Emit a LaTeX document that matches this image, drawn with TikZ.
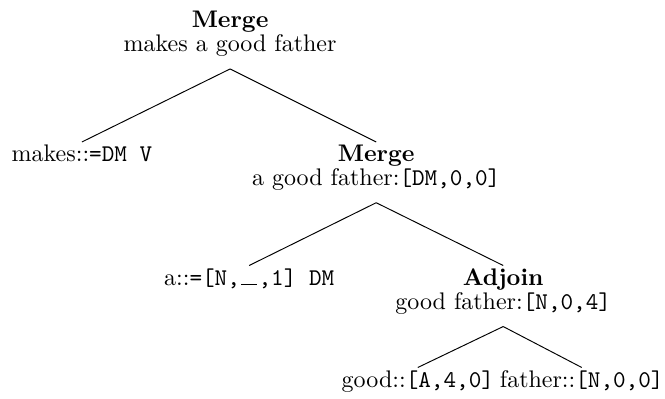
\documentclass[tikz,border=0pt]{standalone}
\usepackage{tikz}
\usetikzlibrary{positioning}
\newcommand{\emptyslot}{\kern.06em\rule{.66em}{.4pt}\kern.06em}

\begin{document}
\begin{tikzpicture}[
    node distance=1cm,
    phrase/.style={inner sep=1pt, align=center},
    leaf/.style={inner sep=1pt},
    branch/.style={line width=0.4pt, black}
  ]
    \useasboundingbox (0,0) rectangle (9.74,-5.84);

    \node[phrase, anchor=north] (root) at (3.37,-0.12) {\textbf{Merge}\\[-2pt]makes a good father};
    \node[leaf, below=1.21cm of root, xshift=-2.17cm] (makes) {makes::\texttt{=DM V}};
    \node[phrase, below=1.21cm of root, xshift=2.14cm] (np) {\textbf{Merge}\\[-2pt]a good father:\texttt{[DM,0,0]}};
    \node[leaf, below=1.06cm of np, xshift=-1.86cm] (det) {a::\texttt{=[N,\emptyslot,1] DM}};
    \node[phrase, below=1.06cm of np, xshift=1.86cm] (adj) {\textbf{Adjoin}\\[-2pt]good father:\texttt{[N,0,4]}};
    \node[leaf, below=0.74cm of adj, xshift=-1.25cm] (good) {good::\texttt{[A,4,0]}};
    \node[leaf, below=0.74cm of adj, xshift=1.15cm] (father) {father::\texttt{[N,0,0]}};

    \draw[branch] ([yshift=-4pt]root.south) -- (makes.north);
    \draw[branch] ([yshift=-4pt]root.south) -- (np.north);
    \draw[branch] ([yshift=-4pt]np.south) -- (det.north);
    \draw[branch] ([yshift=-4pt]np.south) -- (adj.north);
    \draw[branch] ([yshift=-4pt]adj.south) -- (good.north);
    \draw[branch] ([yshift=-4pt]adj.south) -- (father.north);
  \end{tikzpicture}
\end{document}
